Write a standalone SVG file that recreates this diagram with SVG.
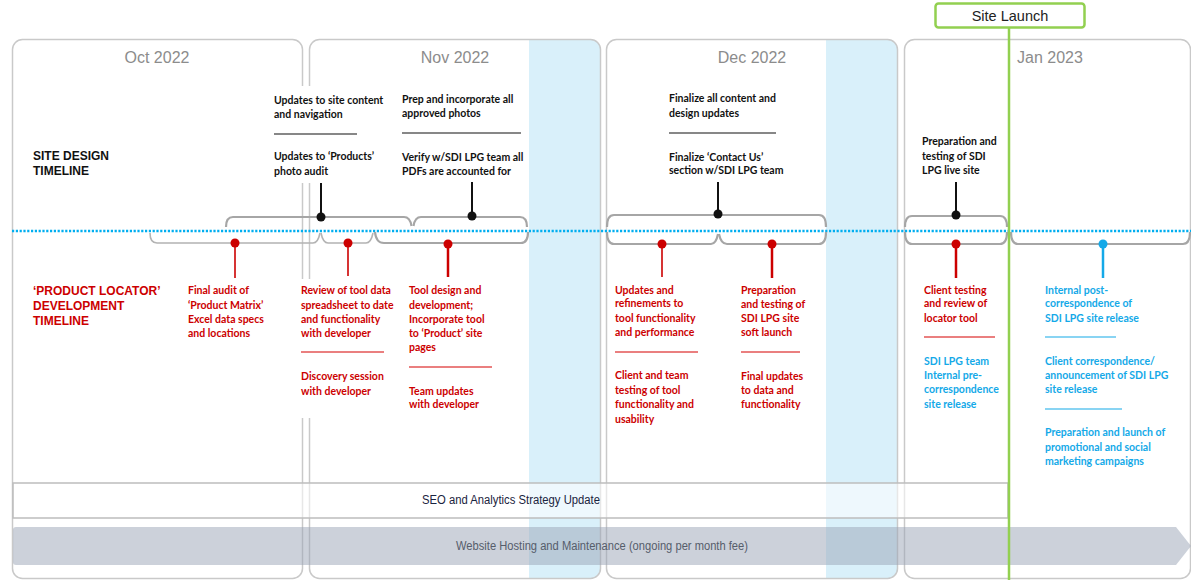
<svg xmlns="http://www.w3.org/2000/svg" width="1191" height="580" viewBox="0 0 1191 580">
  <style>
    .panel { fill: none; stroke: #c9c9c9; stroke-width: 1.5; }
    .band { fill: #d9f0fa; }
    .month { font-family: "Liberation Sans", Arial, sans-serif; font-size: 16px; fill: #8c8c8c; text-anchor: middle; }
    .lbl { font-family: "Liberation Sans", Arial, sans-serif; font-weight: bold; font-size: 12px; }
    .t { font-family: Lato, "Open Sans", sans-serif; font-weight: bold; font-size: 10.5px; }
    .blk { fill: #111111; }
    .red { fill: #cc0000; }
    .blu { fill: #14a9e8; }
    .rule-k { stroke: #111111; stroke-width: 1.2; }
    .rule-r { stroke: #d60000; stroke-width: 1.2; }
    .rule-b { stroke: #14a9e8; stroke-width: 1.2; }
    .brace { fill: none; stroke: #a6a6a6; stroke-width: 2.2; stroke-linejoin: round; }
    .brace-lt { fill: none; stroke: #b3b3b3; stroke-width: 1.6; }
    .stem-k { stroke: #111111; stroke-width: 2; }
    .stem-r { stroke: #cc0000; }
    .stem-b { stroke: #14a9e8; stroke-width: 2.5; }
    .bar { font-family: "Liberation Sans", Arial, sans-serif; font-size: 12px; text-anchor: middle; }
  </style>

  <rect width="1191" height="580" fill="#ffffff"/>

  <!-- month columns -->
  <g id="month-oct">
    <rect class="panel" x="12.5" y="39.5" width="290" height="539" rx="10"/>
    <text class="month" x="157" y="63">Oct 2022</text>
  </g>
  <g id="month-nov">
    <path class="band" d="M529,39.5 H590.5 A10,10 0 0 1 600.5,49.5 V568.5 A10,10 0 0 1 590.5,578.5 H529 Z"/>
    <rect class="panel" x="309.5" y="39.5" width="291" height="539" rx="10"/>
    <text class="month" x="455" y="63">Nov 2022</text>
  </g>
  <g id="month-dec">
    <path class="band" d="M826,39.5 H887.5 A10,10 0 0 1 897.5,49.5 V568.5 A10,10 0 0 1 887.5,578.5 H826 Z"/>
    <rect class="panel" x="606.5" y="39.5" width="291" height="539" rx="10"/>
    <text class="month" x="752" y="63">Dec 2022</text>
  </g>
  <g id="month-jan">
    <rect class="panel" x="904.5" y="39.5" width="286" height="539" rx="10"/>
    <text class="month" x="1050" y="63">Jan 2023</text>
  </g>

  <!-- row titles -->
  <g id="title-site-design">
    <text class="lbl" x="33" y="160" fill="#111111">SITE DESIGN</text>
    <text class="lbl" x="33" y="175" fill="#111111">TIMELINE</text>
  </g>
  <g id="title-locator">
    <text class="lbl red" x="33" y="295" font-size="11.3">‘PRODUCT LOCATOR’</text>
    <text class="lbl red" x="33" y="310" font-size="11.3">DEVELOPMENT</text>
    <text class="lbl red" x="33" y="325" font-size="11.3">TIMELINE</text>
  </g>

  <!-- backdrops for notes that straddle the Oct/Nov border -->
  <rect x="271" y="86" width="92" height="97" fill="#ffffff"/>
  <rect x="298" y="279" width="92" height="139" fill="#ffffff"/>

  <!-- timeline axis -->
  <line x1="12" y1="231" x2="1191" y2="231" stroke="#00aef0" stroke-width="2.6" stroke-dasharray="2.2 1.6"/>

  <!-- connectors: braces and stems -->
  <g id="connectors">
    <!-- site design braces (above axis) -->
    <path class="brace" d="M226,227 Q226,217 233,217 H404 Q410,217 411.5,226"/>
    <path class="brace" d="M413.5,226 Q415,217 421,217 H520 Q527,217 527,227"/>
    <path class="brace" d="M607,227 Q607,215 614,215 H819 Q826,215 826,227"/>
    <path class="brace" d="M905,227 Q905,216 912,216 H1000 Q1007,216 1007,227"/>
    <!-- locator braces (below axis) -->
    <path class="brace-lt" d="M150,233 Q150,243 157,243 H313 Q318,243 320,233"/>
    <path class="brace-lt" d="M321,233 Q323,243 328,243 H366 Q371,243 373,233"/>
    <path class="brace" d="M375,232 Q376,243 384,243 H521 Q528,243 528,232"/>
    <path class="brace" d="M607,232 Q607,244 614,244 H711 Q716,244 718,234"/>
    <path class="brace" d="M719,234 Q721,244 727,244 H819 Q826,244 826,232"/>
    <path class="brace" d="M905,232 Q905,244 912,244 H1000 Q1007,244 1007,232"/>
    <path class="brace" d="M1011,232 Q1011,244 1018,244 H1183 Q1190,244 1190,232"/>

    <!-- black stems -->
    <line class="stem-k" x1="321" y1="183" x2="321" y2="217"/>
    <circle cx="321" cy="217" r="4.5" fill="#111111"/>
    <line class="stem-k" x1="472" y1="182" x2="472" y2="216"/>
    <circle cx="472" cy="216" r="4.5" fill="#111111"/>
    <line class="stem-k" x1="718" y1="182" x2="718" y2="214"/>
    <circle cx="718" cy="214" r="4.5" fill="#111111"/>
    <line class="stem-k" x1="956" y1="182" x2="956" y2="215"/>
    <circle cx="956" cy="215" r="4.5" fill="#111111"/>

    <!-- red stems -->
    <line class="stem-r" x1="235" y1="243" x2="235" y2="278" stroke-width="1.6"/>
    <circle cx="235" cy="243" r="4.5" fill="#cc0000"/>
    <line class="stem-r" x1="348" y1="243" x2="348" y2="276" stroke-width="1.6"/>
    <circle cx="348" cy="243" r="4.5" fill="#cc0000"/>
    <line class="stem-r" x1="448" y1="244" x2="448" y2="277" stroke-width="2.5"/>
    <circle cx="448" cy="244" r="4.5" fill="#cc0000"/>
    <line class="stem-r" x1="662" y1="244" x2="662" y2="277" stroke-width="1.6"/>
    <circle cx="662" cy="244" r="4.5" fill="#cc0000"/>
    <line class="stem-r" x1="772" y1="244" x2="772" y2="278" stroke-width="2.5"/>
    <circle cx="772" cy="244" r="4.5" fill="#cc0000"/>
    <line class="stem-r" x1="956" y1="244" x2="956" y2="278" stroke-width="2.5"/>
    <circle cx="956" cy="244" r="4.5" fill="#cc0000"/>

    <!-- blue stem -->
    <line class="stem-b" x1="1103" y1="244" x2="1103" y2="278"/>
    <circle cx="1103" cy="244" r="4.5" fill="#14a9e8"/>
  </g>

  <!-- site design notes -->
  <g id="note-site-content">
    <text class="t blk" x="274" y="104">Updates to site content</text>
    <text class="t blk" x="274" y="118">and navigation</text>
    <line class="rule-k" x1="274" y1="134" x2="357" y2="134"/>
    <text class="t blk" x="274" y="160">Updates to ‘Products’</text>
    <text class="t blk" x="274" y="175">photo audit</text>
  </g>
  <g id="note-photos">
    <text class="t blk" x="402" y="103">Prep and incorporate all</text>
    <text class="t blk" x="402" y="117">approved photos</text>
    <line class="rule-k" x1="402" y1="133" x2="521" y2="133"/>
    <text class="t blk" x="402" y="161">Verify w/SDI LPG team all</text>
    <text class="t blk" x="402" y="175">PDFs are accounted for</text>
  </g>
  <g id="note-finalize">
    <text class="t blk" x="669" y="102">Finalize all content and</text>
    <text class="t blk" x="669" y="117">design updates</text>
    <line class="rule-k" x1="669" y1="133" x2="776" y2="133"/>
    <text class="t blk" x="669" y="161">Finalize ‘Contact Us’</text>
    <text class="t blk" x="669" y="174">section w/SDI LPG team</text>
  </g>
  <g id="note-live-site">
    <text class="t blk" x="922" y="145">Preparation and</text>
    <text class="t blk" x="922" y="160">testing of SDI</text>
    <text class="t blk" x="922" y="174">LPG live site</text>
  </g>

  <!-- locator notes -->
  <g id="note-audit">
    <text class="t red" x="188" y="294">Final audit of</text>
    <text class="t red" x="188" y="309">‘Product Matrix’</text>
    <text class="t red" x="188" y="323">Excel data specs</text>
    <text class="t red" x="188" y="337">and locations</text>
  </g>
  <g id="note-review">
    <text class="t red" x="301" y="294">Review of tool data</text>
    <text class="t red" x="301" y="309">spreadsheet to date</text>
    <text class="t red" x="301" y="323">and functionality</text>
    <text class="t red" x="301" y="337">with developer</text>
    <line class="rule-r" x1="301" y1="352" x2="384" y2="352"/>
    <text class="t red" x="301" y="380">Discovery session</text>
    <text class="t red" x="301" y="395">with developer</text>
  </g>
  <g id="note-tool-design">
    <text class="t red" x="409" y="294">Tool design and</text>
    <text class="t red" x="409" y="309">development;</text>
    <text class="t red" x="409" y="323">Incorporate tool</text>
    <text class="t red" x="409" y="337">to ‘Product’ site</text>
    <text class="t red" x="409" y="351">pages</text>
    <line class="rule-r" x1="409" y1="367" x2="492" y2="367"/>
    <text class="t red" x="409" y="395">Team updates</text>
    <text class="t red" x="409" y="408">with developer</text>
  </g>
  <g id="note-refinements">
    <text class="t red" x="615" y="294">Updates and</text>
    <text class="t red" x="615" y="307">refinements to</text>
    <text class="t red" x="615" y="322">tool functionality</text>
    <text class="t red" x="615" y="336">and performance</text>
    <line class="rule-r" x1="615" y1="352" x2="698" y2="352"/>
    <text class="t red" x="615" y="379">Client and team</text>
    <text class="t red" x="615" y="394">testing of tool</text>
    <text class="t red" x="615" y="408">functionality and</text>
    <text class="t red" x="615" y="423">usability</text>
  </g>
  <g id="note-soft-launch">
    <text class="t red" x="741" y="294">Preparation</text>
    <text class="t red" x="741" y="308">and testing of</text>
    <text class="t red" x="741" y="322">SDI LPG site</text>
    <text class="t red" x="741" y="336">soft launch</text>
    <line class="rule-r" x1="741" y1="352" x2="800" y2="352"/>
    <text class="t red" x="741" y="380">Final updates</text>
    <text class="t red" x="741" y="394">to data  and</text>
    <text class="t red" x="741" y="408">functionality</text>
  </g>
  <g id="note-client-testing">
    <text class="t red" x="924" y="294">Client testing</text>
    <text class="t red" x="924" y="307">and review of</text>
    <text class="t red" x="924" y="322">locator tool</text>
    <line class="rule-r" x1="924" y1="337" x2="995" y2="337"/>
    <text class="t blu" x="924" y="365">SDI LPG team</text>
    <text class="t blu" x="924" y="379">Internal pre-</text>
    <text class="t blu" x="924" y="393">correspondence</text>
    <text class="t blu" x="924" y="408">site release</text>
  </g>
  <g id="note-release">
    <text class="t blu" x="1045" y="294">Internal post-</text>
    <text class="t blu" x="1045" y="307">correspondence of</text>
    <text class="t blu" x="1045" y="322">SDI LPG site release</text>
    <line class="rule-b" x1="1045" y1="337" x2="1116" y2="337"/>
    <text class="t blu" x="1045" y="365">Client correspondence/</text>
    <text class="t blu" x="1045" y="379">announcement of SDI LPG</text>
    <text class="t blu" x="1045" y="393">site release</text>
    <line class="rule-b" x1="1045" y1="409" x2="1122" y2="409"/>
    <text class="t blu" x="1045" y="436">Preparation and launch of</text>
    <text class="t blu" x="1045" y="451">promotional and social</text>
    <text class="t blu" x="1045" y="465">marketing campaigns</text>
  </g>

  <!-- ongoing bars -->
  <g id="bar-seo">
    <rect x="13" y="483" width="995" height="35" fill="#ffffff" fill-opacity="0.55" stroke="#bdbdbd" stroke-width="1.5"/>
    <text class="bar" x="511" y="504" fill="#1a2440" textLength="178" lengthAdjust="spacingAndGlyphs">SEO and Analytics Strategy Update</text>
  </g>
  <g id="bar-hosting">
    <path d="M16,527 H1176 L1191,546 L1176,565 H16 Q13,565 13,562 V530 Q13,527 16,527 Z" fill="#9aa3b5" fill-opacity="0.5"/>
    <text class="bar" x="602" y="550" fill="#565d6b" textLength="292" lengthAdjust="spacingAndGlyphs">Website Hosting and Maintenance (ongoing per month fee)</text>
  </g>

  <!-- launch marker -->
  <g id="site-launch">
    <line x1="1009" y1="27" x2="1009" y2="580" stroke="#92d050" stroke-width="2.5"/>
    <rect x="935.5" y="3.5" width="149" height="24" rx="3" fill="#ffffff" stroke="#92d050" stroke-width="2.5"/>
    <text x="1010" y="21" font-family="Liberation Sans, Arial, sans-serif" font-size="14.5" fill="#222222" text-anchor="middle">Site Launch</text>
  </g>
</svg>
